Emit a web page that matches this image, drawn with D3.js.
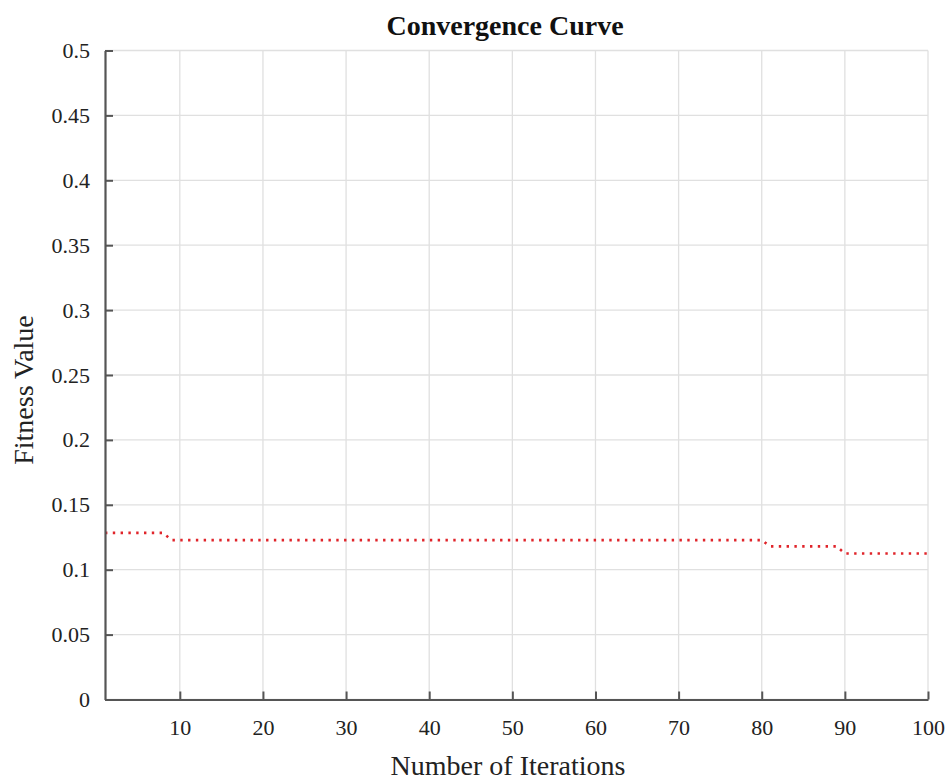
<!DOCTYPE html>
<html><head><meta charset="utf-8">
<script src="https://cdn.jsdelivr.net/npm/d3@7"></script>
<style>body{margin:0;background:#fff}text{font-family:"Liberation Serif","Times New Roman",serif}</style>
</head><body>
<svg id="c" width="947" height="781"></svg>
<script>
const iterations = [1, 8, 9, 80, 81, 89, 90, 100];
const fitness = [0.1284, 0.1284, 0.1228, 0.1228, 0.118, 0.118, 0.1125, 0.1125];
const xTicks = [10, 20, 30, 40, 50, 60, 70, 80, 90, 100];
const yTicks = [0, 0.05, 0.1, 0.15, 0.2, 0.25, 0.3, 0.35, 0.4, 0.45, 0.5];
const yTickLabels = ["0", "0.05", "0.1", "0.15", "0.2", "0.25", "0.3", "0.35", "0.4", "0.45", "0.5"];

const svg = d3.select("#c");
const L = 105, R = 928, T = 50.5, B = 699.5;
const x = d3.scaleLinear().domain([1, 100]).range([L, R]);
const y = d3.scaleLinear().domain([0, 0.5]).range([B, T]);

// grid
svg.append("g").selectAll("line").data(xTicks).join("line")
  .attr("x1", d => x(d)).attr("x2", d => x(d)).attr("y1", T).attr("y2", B)
  .attr("stroke", "#e0e0e0").attr("stroke-width", 1.3);
svg.append("g").selectAll("line").data(yTicks).join("line")
  .attr("x1", L).attr("x2", R).attr("y1", d => y(d)).attr("y2", d => y(d))
  .attr("stroke", "#e0e0e0").attr("stroke-width", 1.3);

// line
const line = d3.line().x((d, i) => x(iterations[i])).y(d => y(d));
svg.append("path").datum(fitness).attr("d", line)
  .attr("fill", "none").attr("stroke", "#e0242a").attr("stroke-width", 2.6)
  .attr("stroke-dasharray", "2.4,5.4");

// axes
const xAxis = d3.axisBottom(x).tickValues(xTicks).tickSizeInner(-8).tickSizeOuter(0).tickPadding(20);
const gx = svg.append("g").attr("transform", `translate(0,${B})`).call(xAxis);
const yAxis = d3.axisLeft(y).tickValues(yTicks).tickFormat((d, i) => yTickLabels[i]).tickSizeInner(-8).tickSizeOuter(0).tickPadding(15);
const gy = svg.append("g").attr("transform", `translate(${L},0)`).call(yAxis);
[gx, gy].forEach(g => {
  g.select(".domain").attr("stroke", "#555").attr("stroke-width", 2.2);
  g.selectAll(".tick line").attr("stroke", "#555").attr("stroke-width", 2);
  g.selectAll(".tick text").attr("fill", "#222").style("font-size", "22px").style("font-family", '"Liberation Serif",serif');
});

// titles
svg.append("text").attr("x", 505).attr("y", 35).attr("text-anchor", "middle")
  .style("font-size", "28px").style("font-weight", "bold").attr("fill", "#111").text("Convergence Curve");
svg.append("text").attr("x", 508).attr("y", 775).attr("text-anchor", "middle")
  .style("font-size", "28px").attr("fill", "#222").text("Number of Iterations");
svg.append("text").attr("transform", "translate(33,390) rotate(-90)").attr("text-anchor", "middle")
  .style("font-size", "28px").attr("fill", "#222").text("Fitness Value");
</script>
</body></html>
